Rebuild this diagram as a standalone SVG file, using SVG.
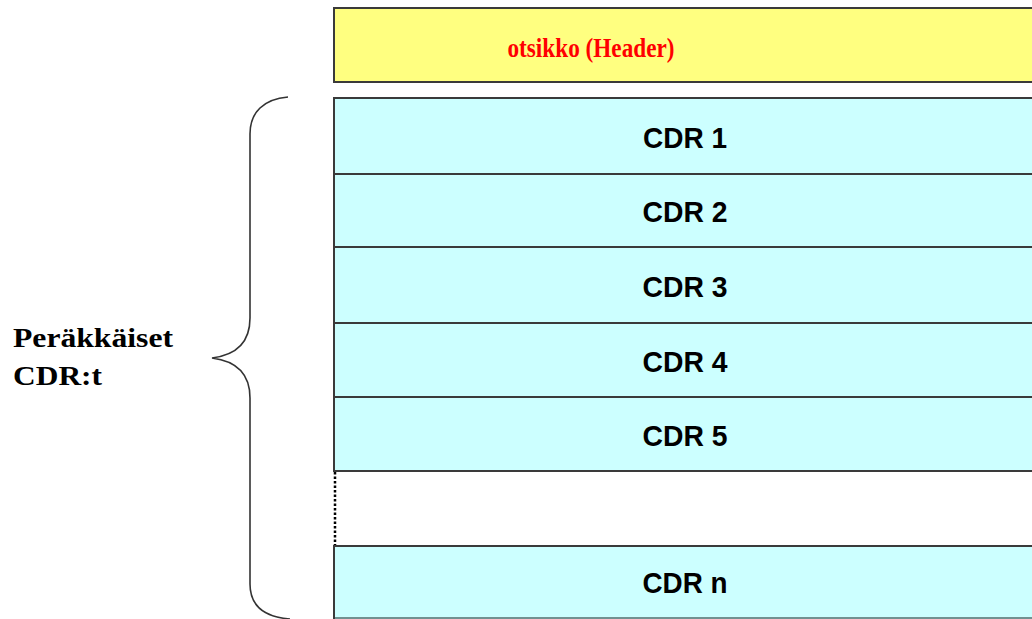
<svg xmlns="http://www.w3.org/2000/svg" width="1032" height="619" viewBox="0 0 1032 619">
  <style>
    .box { stroke: #3a3a3a; stroke-width: 2; }
    .hdr { fill: #FFFF80; }
    .cdr { fill: #CCFFFF; }
    .lbl { font-family: "Liberation Sans", Arial, sans-serif; font-weight: bold; font-size: 30px; fill: #000; text-anchor: middle; }
    .serif { font-family: "Liberation Serif", "Times New Roman", serif; font-weight: bold; font-size: 28px; }
    .brace { stroke: #333; stroke-width: 1.6; fill: none; }
  </style>

  <rect width="1032" height="619" fill="#fff"/>

  <!-- header record -->
  <g id="header">
    <rect class="box hdr" x="334" y="8" width="710" height="74"/>
    <text class="serif" x="591" y="57" fill="#FF0000" text-anchor="middle" textLength="167" lengthAdjust="spacingAndGlyphs">otsikko (Header)</text>
  </g>

  <!-- CDR stack -->
  <g id="cdr1">
    <rect class="box cdr" x="334" y="98" width="710" height="76"/>
    <text class="lbl" x="685" y="148" textLength="84" lengthAdjust="spacingAndGlyphs">CDR 1</text>
  </g>
  <g id="cdr2">
    <rect class="box cdr" x="334" y="174" width="710" height="73"/>
    <text class="lbl" x="685" y="222" textLength="85" lengthAdjust="spacingAndGlyphs">CDR 2</text>
  </g>
  <g id="cdr3">
    <rect class="box cdr" x="334" y="247" width="710" height="76"/>
    <text class="lbl" x="685" y="297" textLength="85" lengthAdjust="spacingAndGlyphs">CDR 3</text>
  </g>
  <g id="cdr4">
    <rect class="box cdr" x="334" y="323" width="710" height="74"/>
    <text class="lbl" x="685" y="372" textLength="85" lengthAdjust="spacingAndGlyphs">CDR 4</text>
  </g>
  <g id="cdr5">
    <rect class="box cdr" x="334" y="397" width="710" height="74"/>
    <text class="lbl" x="685" y="446" textLength="85" lengthAdjust="spacingAndGlyphs">CDR 5</text>
  </g>
  <g id="gap">
    <rect x="335" y="472" width="710" height="73" fill="#fff"/>
    <line x1="335" y1="472" x2="335" y2="546" stroke="#000" stroke-width="2.5" stroke-dasharray="2.5 2"/>
  </g>
  <g id="cdrn">
    <rect class="box cdr" x="334" y="546" width="710" height="72"/>
    <line x1="335" y1="618" x2="1032" y2="618" stroke="#a8e8e8" stroke-width="1"/>
    <text class="lbl" x="685" y="593" textLength="85" lengthAdjust="spacingAndGlyphs">CDR n</text>
  </g>

  <!-- brace grouping the consecutive records -->
  <g id="connectors">
    <path class="brace" d="M 288 97 C 264 99, 250 112, 250 134 L 250 318 C 250 342, 236 355, 212 358 C 236 361, 250 374, 250 398 L 250 584 C 250 606, 264 617, 290 619"/>
  </g>

  <g id="label">
    <text class="serif" x="13" y="347" fill="#000" textLength="160" lengthAdjust="spacingAndGlyphs">Peräkkäiset</text>
    <text class="serif" x="13" y="385" fill="#000" textLength="89" lengthAdjust="spacingAndGlyphs">CDR:t</text>
  </g>
</svg>
